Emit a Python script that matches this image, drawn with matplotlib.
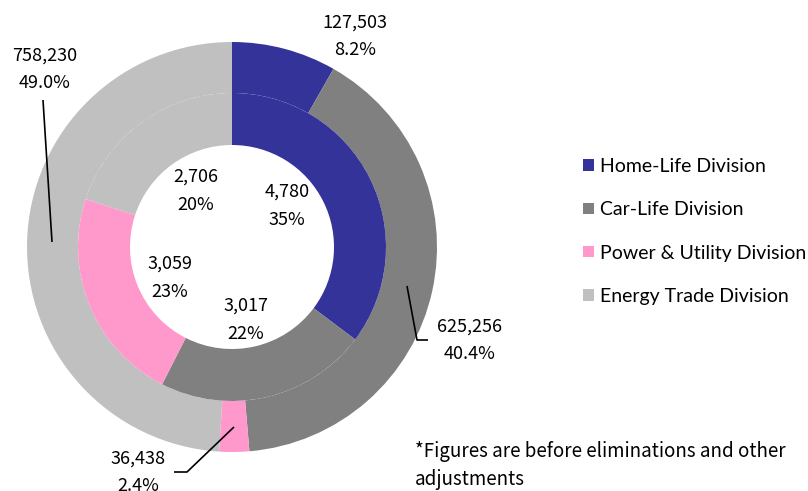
import numpy as np
import matplotlib.pyplot as plt

# segment data
divisions = ["Home-Life Division", "Car-Life Division",
             "Power & Utility Division", "Energy Trade Division"]
colors = ["#333399", "#808080", "#FF99CC", "#C0C0C0"]
outer_vals = [127503, 625256, 36438, 758230]
inner_vals = [4780, 3017, 3059, 2706]

W, H = 808, 491
fig = plt.figure(figsize=(W / 100, H / 100), dpi=100)
ax = fig.add_axes([0, 0, 1, 1])
ax.set_xlim(0, W)
ax.set_ylim(0, H)
ax.set_aspect("equal")
ax.axis("off")

cx, cy = 232, H - 247
r_out, r_mid, r_in = 205, 154, 102

outer = ax.pie(outer_vals, colors=colors, radius=r_out, center=(cx, cy),
               startangle=90, counterclock=False,
               wedgeprops=dict(width=r_out - r_mid, linewidth=0))
inner = ax.pie(inner_vals, colors=colors, radius=r_mid, center=(cx, cy),
               startangle=90, counterclock=False,
               wedgeprops=dict(width=r_mid - r_in, linewidth=0))
ax.set_xlim(0, W)
ax.set_ylim(0, H)

lab_font = ["Noto Sans CJK JP", "DejaVu Sans"]

def two_line(x, y, val, pct, gap=27):
    ax.text(x, H - y, f"{val:,}", ha="center", va="center",
            fontsize=13, family=lab_font)
    ax.text(x, H - y - gap, pct, ha="center", va="center",
            fontsize=13, family=lab_font)

tot_o = sum(outer_vals)
tot_i = sum(inner_vals)
outer_pos = [(355, 23), (470, 327), (138, 459), (45, 56)]
inner_pos = [(287, 192), (246, 306), (170, 264), (196, 177)]
for v, (x, y) in zip(outer_vals, outer_pos):
    two_line(x, y, v, f"{v / tot_o * 100:.1f}%")
for v, (x, y) in zip(inner_vals, inner_pos):
    two_line(x, y, v, f"{v / tot_i * 100:.0f}%", gap=28)

# leader lines
leaders = [
    [(43, 100), (52, 242)],
    [(407, 286), (417, 340), (428, 340)],
    [(234, 427), (187, 472), (174, 472)],
]
for pts in leaders:
    xs = [p[0] for p in pts]
    ys = [H - p[1] for p in pts]
    ax.plot(xs, ys, color="black", linewidth=1.2, solid_capstyle="butt")

ax.legend(outer[0], divisions, loc="upper left",
          bbox_to_anchor=(583 / W, 1 - 158 / H), frameon=False,
          prop={"family": "Lato", "size": 14},
          handlelength=0.55, handleheight=0.55, handletextpad=0.3,
          labelspacing=1.35, borderpad=0, borderaxespad=0)

ax.text(415, H - 452, "*Figures are before eliminations and other",
        ha="left", va="center", fontsize=13.5, family=lab_font)
ax.text(415, H - 480, "adjustments",
        ha="left", va="center", fontsize=13.5, family=lab_font)

fig.savefig("out.png", dpi=100)
